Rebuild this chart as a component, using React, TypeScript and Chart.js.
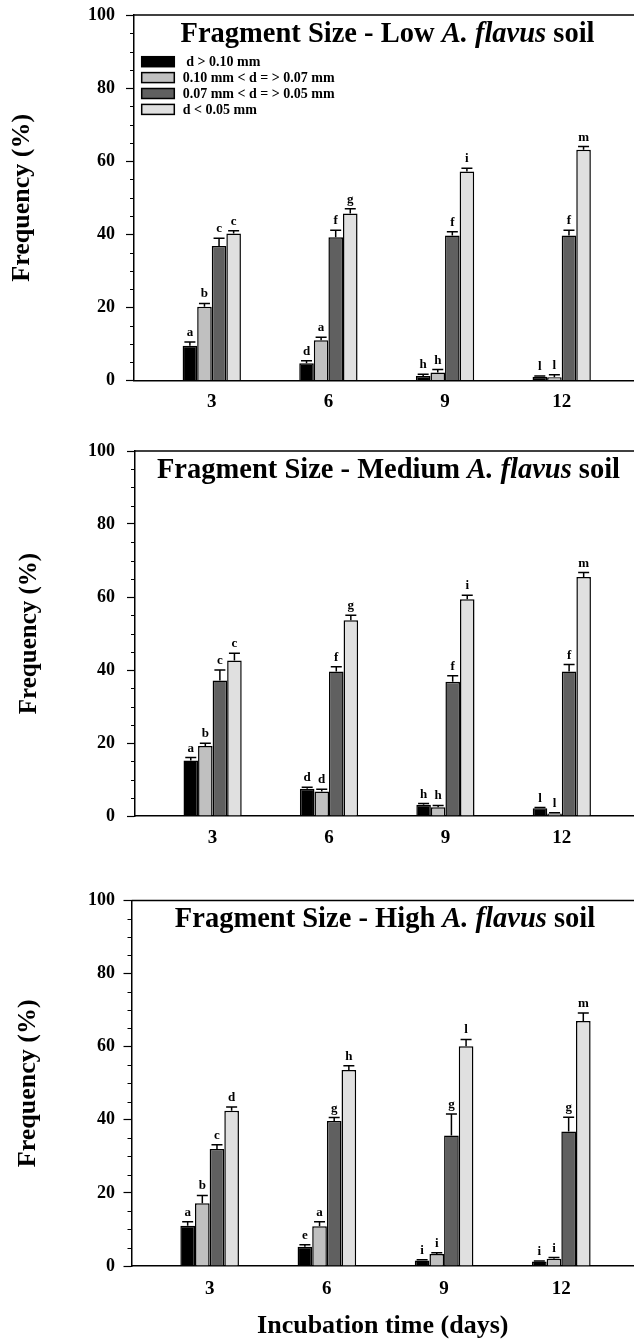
import React, { useEffect, useRef } from 'react';
import { Chart, registerables } from 'chart.js';

Chart.register(...registerables);

const FONT = "'Liberation Serif', 'Times New Roman', serif";

// ---------- data ----------
const days = [3, 6, 9, 12];
const yTicks = [0, 20, 40, 60, 80, 100];
const sizeClasses = [' d > 0.10 mm', '0.10 mm < d = > 0.07 mm', '0.07 mm < d = > 0.05 mm', 'd < 0.05 mm'];
const barColors = ['#000000', '#c0c0c0', '#606060', '#e0e0e0'];
const soilLevels = ['Low', 'Medium', 'High'];

// Low A. flavus soil
const lowGt010 = [9.5, 4.7, 1.2, 1.0];
const low010to007 = [20.2, 11.0, 2.2, 0.9];
const low007to005 = [36.8, 39.2, 39.7, 39.7];
const lowLt005 = [40.2, 45.7, 57.2, 63.1];
const lowErrGt010 = [1.0, 0.7, 0.5, 0.2];
const lowErr010to007 = [0.9, 0.8, 0.8, 0.7];
const lowErr007to005 = [2.1, 1.9, 1.0, 1.4];
const lowErrLt005 = [0.8, 1.3, 0.9, 0.9];
const lowLetters = [['a', 'd', 'h', 'l'], ['b', 'a', 'h', 'l'], ['c', 'f', 'f', 'f'], ['c', 'g', 'i', 'm']];

// Medium A. flavus soil
const medGt010 = [15.2, 7.5, 3.1, 2.1];
const med010to007 = [19.2, 6.7, 2.4, 0.7];
const med007to005 = [37.1, 39.6, 36.8, 39.6];
const medLt005 = [42.6, 53.6, 59.4, 65.5];
const medErrGt010 = [0.8, 0.4, 0.3, 0.2];
const medErr010to007 = [0.7, 0.6, 0.5, 0.2];
const medErr007to005 = [2.9, 1.3, 1.6, 1.9];
const medErrLt005 = [2.0, 1.4, 1.1, 1.2];
const medLetters = [['a', 'd', 'h', 'l'], ['b', 'd', 'h', 'l'], ['c', 'f', 'f', 'f'], ['c', 'g', 'i', 'm']];

// High A. flavus soil
const highGt010 = [11.0, 5.3, 1.5, 1.2];
const high010to007 = [17.2, 10.9, 3.3, 2.0];
const high007to005 = [32.0, 39.7, 35.7, 36.8];
const highLt005 = [42.5, 53.6, 60.1, 67.0];
const highErrGt010 = [1.1, 0.5, 0.2, 0.2];
const highErr010to007 = [2.1, 1.2, 0.3, 0.3];
const highErr007to005 = [1.2, 0.9, 5.9, 3.9];
const highErrLt005 = [1.0, 1.2, 1.9, 2.2];
const highLetters = [['a', 'e', 'i', 'i'], ['b', 'a', 'i', 'i'], ['c', 'g', 'g', 'g'], ['d', 'h', 'l', 'm']];

const xMin = 1;
const xMax = 13.86;

// ---------- layout (not data) ----------
const panels = [
  {
    level: soilLevels[0], values: [lowGt010, low010to007, low007to005, lowLt005],
    errors: [lowErrGt010, lowErr010to007, lowErr007to005, lowErrLt005], letters: lowLetters,
    top: 0, height: 430, padTop: 15, xAxisH: 49.5, axisW: 134, yPad: 11, yTitlePad: 7, yTitleSize: 26, xPad: 10,
    showLegend: true, showXTitle: false,
  },
  {
    level: soilLevels[1], values: [medGt010, med010to007, med007to005, medLt005],
    errors: [medErrGt010, medErr010to007, medErr007to005, medErrLt005], letters: medLetters,
    top: 430, height: 430, padTop: 21, xAxisH: 44, axisW: 135, yPad: 12, yTitlePad: 15, yTitleSize: 25, xPad: 11,
    showLegend: false, showXTitle: false,
  },
  {
    level: soilLevels[2], values: [highGt010, high010to007, high007to005, highLt005],
    errors: [highErrGt010, highErr010to007, highErr007to005, highErrLt005], letters: highLetters,
    top: 860, height: 482, padTop: 40.5, xAxisH: 76, axisW: 131.5, yPad: 8.5, yTitlePad: 12.5, yTitleSize: 26, xPad: 12,
    showLegend: false, showXTitle: true,
  },
];

const decorPlugin = {
  id: 'decor',
  afterDatasetsDraw(chart: any, _args: any, opts: any) {
    const { ctx } = chart;
    const y = chart.scales.y;
    ctx.save();
    chart.data.datasets.forEach((ds: any, i: number) => {
      const meta = chart.getDatasetMeta(i);
      meta.data.forEach((bar: any, j: number) => {
        const v = ds.data[j].y;
        const e = opts.errors[i][j];
        const top = y.getPixelForValue(v);
        const capY = y.getPixelForValue(v + e);
        const x = bar.x;
        ctx.strokeStyle = '#000';
        ctx.lineWidth = 1.5;
        ctx.beginPath();
        ctx.moveTo(x, top);
        ctx.lineTo(x, capY);
        ctx.moveTo(x - 5.5, capY);
        ctx.lineTo(x + 5.5, capY);
        ctx.stroke();
        ctx.font = `bold 13px ${FONT}`;
        ctx.textAlign = 'center';
        ctx.textBaseline = 'alphabetic';
        ctx.fillStyle = '#000';
        ctx.fillText(opts.letters[i][j], x, capY - 6);
      });
    });
    ctx.restore();
  },
  afterDraw(chart: any, _args: any, opts: any) {
    const { ctx, chartArea } = chart;
    const y = chart.scales.y;
    ctx.save();
    // top frame line
    ctx.strokeStyle = '#000';
    ctx.lineWidth = 1.5;
    ctx.beginPath();
    ctx.moveTo(chartArea.left, chartArea.top);
    ctx.lineTo(chartArea.right, chartArea.top);
    ctx.stroke();
    // minor ticks
    ctx.lineWidth = 1;
    ctx.beginPath();
    for (let v = 5; v < 100; v += 5) {
      if (v % 20 === 0) continue;
      const py = Math.round(y.getPixelForValue(v)) + 0.5;
      ctx.moveTo(chartArea.left - 4, py);
      ctx.lineTo(chartArea.left, py);
    }
    ctx.stroke();
    // title
    const segs = [
      { t: `Fragment Size - ${opts.level} `, it: false },
      { t: 'A. flavus', it: true },
      { t: ' soil', it: false },
    ];
    const fontFor = (it: boolean) => `${it ? 'italic ' : ''}bold 28.5px ${FONT}`;
    let total = 0;
    segs.forEach((s) => { ctx.font = fontFor(s.it); total += ctx.measureText(s.t).width; });
    let tx = chartArea.left + 253.5 - total / 2;
    const ty = chartArea.top + 26.5;
    ctx.fillStyle = '#000';
    ctx.textAlign = 'left';
    ctx.textBaseline = 'alphabetic';
    segs.forEach((s) => {
      ctx.font = fontFor(s.it);
      ctx.fillText(s.t, tx, ty);
      tx += ctx.measureText(s.t).width;
    });
    // legend
    if (opts.showLegend) {
      chart.data.datasets.forEach((ds: any, i: number) => {
        const cy = chartArea.top + 46.7 + i * 15.9;
        const bx = chartArea.left + 7.7;
        ctx.fillStyle = ds.backgroundColor;
        ctx.fillRect(bx, cy - 5, 32.6, 10);
        ctx.strokeStyle = '#000';
        ctx.lineWidth = 1.5;
        ctx.strokeRect(bx, cy - 5, 32.6, 10);
        ctx.fillStyle = '#000';
        ctx.font = `bold 14px ${FONT}`;
        ctx.textBaseline = 'middle';
        ctx.fillText(ds.label, chartArea.left + 48.7, cy + 0.5);
      });
    }
    ctx.restore();
  },
};

function Panel({ p }: { p: any }) {
  const ref = useRef<HTMLCanvasElement | null>(null);
  useEffect(() => {
    if (!ref.current) return;
    const chart = new Chart(ref.current, {
      type: 'bar',
      data: {
        datasets: p.values.map((vals: number[], i: number) => ({
          label: sizeClasses[i],
          data: days.map((d, k) => ({ x: d, y: vals[k] })),
          backgroundColor: barColors[i],
          borderColor: '#000000',
          borderWidth: 1.5,
          borderSkipped: 'bottom',
          barPercentage: 1.0,
          categoryPercentage: 0.5,
        })),
      },
      options: {
        responsive: false,
        animation: false,
        layout: { padding: { top: p.padTop, left: 0, right: 0, bottom: 0 } },
        plugins: {
          legend: { display: false },
          tooltip: { enabled: false },
          decor: { errors: p.errors, letters: p.letters, level: p.level, showLegend: p.showLegend },
        } as any,
        scales: {
          x: {
            type: 'linear',
            min: xMin,
            max: xMax,
            offset: false,
            afterBuildTicks: (ax: any) => { ax.ticks = days.map((v) => ({ value: v })); },
            afterFit: (ax: any) => { ax.height = p.xAxisH; ax.paddingLeft = 0; ax.paddingRight = 0; },
            grid: { display: false, drawTicks: false, offset: false },
            border: { display: true, color: '#000', width: 1.5 },
            ticks: { font: { family: FONT, size: 19, weight: 'bold' }, color: '#000', padding: p.xPad, maxRotation: 0, autoSkip: false },
            title: {
              display: p.showXTitle, text: 'Incubation time (days)', color: '#000',
              font: { family: FONT, size: 26, weight: 'bold' }, padding: { top: 0, bottom: 0 },
            },
          },
          y: {
            min: 0,
            max: 100,
            afterBuildTicks: (ax: any) => { ax.ticks = yTicks.map((v) => ({ value: v })); },
            afterFit: (ax: any) => { ax.width = p.axisW; ax.paddingTop = 0; ax.paddingBottom = 0; },
            grid: { drawOnChartArea: false, drawTicks: true, tickLength: 8, color: '#000', tickWidth: 1.2 },
            border: { display: true, color: '#000', width: 1.5 },
            ticks: { font: { family: FONT, size: 18, weight: 'bold' }, color: '#000', padding: p.yPad },
            title: {
              display: true, text: 'Frequency (%)', color: '#000',
              font: { family: FONT, size: p.yTitleSize, weight: 'bold' }, padding: { top: p.yTitlePad, bottom: 0 },
            },
          },
        } as any,
      },
      plugins: [decorPlugin as any],
    });
    return () => chart.destroy();
  }, [p]);
  return (
    <canvas
      ref={ref}
      width={634}
      height={p.height}
      style={{ position: 'absolute', left: 0, top: p.top, width: 634, height: p.height, display: 'block' }}
    />
  );
}

export default function App() {
  return (
    <div style={{ position: 'absolute', left: 0, top: 0, width: 634, height: 1342, background: '#fff', overflow: 'hidden' }}>
      {panels.map((p, i) => (
        <Panel key={i} p={p} />
      ))}
    </div>
  );
}
